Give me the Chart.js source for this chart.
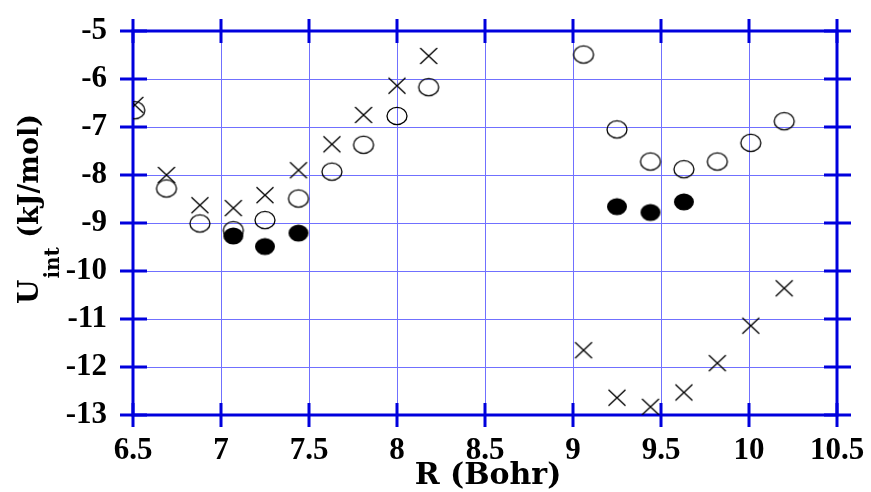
<!DOCTYPE html>
<html>
<head>
<meta charset="utf-8">
<script src="https://cdn.jsdelivr.net/npm/chart.js@4"></script>
<style>
  html, body { margin: 0; padding: 0; background: #fff; }
  #grafico { display: block; }
</style>
</head>
<body>
<canvas id="grafico" width="871" height="492"></canvas>
<script>
// distancias R (Bohr) de cada grupo
const rIzq = [6.51, 6.69, 6.88, 7.07, 7.25, 7.44, 7.63, 7.81, 8.0, 8.18];
const rDer = [9.06, 9.25, 9.44, 9.63, 9.82, 10.01, 10.2];
const rLlenoIzq = [7.07, 7.25, 7.44];
const rLlenoDer = [9.25, 9.44, 9.63];

// energias U_int (kJ/mol)
const abiertoIzq = [-6.65, -8.28, -9.01, -9.15, -8.94, -8.49, -7.93, -7.37, -6.77, -6.17];
const abiertoDer = [-5.49, -7.05, -7.72, -7.88, -7.72, -7.33, -6.88];
const cruzIzq = [-6.54, -8.0, -8.63, -8.69, -8.42, -7.9, -7.36, -6.75, -6.14, -5.52];
const cruzDer = [-11.65, -12.64, -12.83, -12.53, -11.92, -11.14, -10.36];
const llenoIzq = [-9.27, -9.49, -9.21];
const llenoDer = [-8.66, -8.78, -8.56];

// etiquetas de los ejes
const ejeX = { min: 6.5, max: 10.5, paso: 0.5, titulo: 'R (Bohr)' };
const ejeY = { min: -13, max: -5, paso: 1 };

const azul = '#0000dd';
const rejilla = '#7070ff';
const fuenteTitulo = 'bold 30px "DejaVu Serif"';

function puntos(rs, us) {
    return rs.map((r, i) => ({ x: r, y: us[i] }));
}

// simbolos dibujados a mano (elipses y cruces)
function simbolo(tipo) {
    const c = document.createElement('canvas');
    c.width = 24; c.height = 22;
    const g = c.getContext('2d');
    g.strokeStyle = '#000';
    g.fillStyle = '#000';
    g.lineWidth = 1.3;
    if (tipo === 'cruz') {
        g.beginPath();
        g.moveTo(3.5, 3); g.lineTo(20.5, 19);
        g.moveTo(20.5, 3); g.lineTo(3.5, 19);
        g.stroke();
    } else {
        g.beginPath();
        g.ellipse(12, 11, 10, 8.6, 0, 0, Math.PI * 2);
        if (tipo === 'lleno') g.fill(); else g.stroke();
    }
    return c;
}

// caja azul con marcas que cruzan el borde, y titulos
const marco = {
    id: 'marco',
    beforeDatasetsDraw(chart) {
        const { ctx, chartArea: a, scales } = chart;
        ctx.save();
        ctx.strokeStyle = azul;
        ctx.lineWidth = 3;
        ctx.strokeRect(a.left, a.top, a.right - a.left, a.bottom - a.top);
        ctx.beginPath();
        scales.x.ticks.forEach(t => {
            const x = scales.x.getPixelForValue(t.value);
            ctx.moveTo(x, a.top - 12); ctx.lineTo(x, a.top + 12);
            ctx.moveTo(x, a.bottom - 12); ctx.lineTo(x, a.bottom + 12);
        });
        scales.y.ticks.forEach(t => {
            const y = scales.y.getPixelForValue(t.value);
            ctx.moveTo(a.left - 13, y); ctx.lineTo(a.left + 14, y);
            ctx.moveTo(a.right - 13, y); ctx.lineTo(a.right + 14, y);
        });
        ctx.stroke();
        ctx.restore();
    },
    afterDraw(chart) {
        const { ctx, chartArea: a } = chart;
        ctx.save();
        ctx.fillStyle = '#000';
        ctx.font = fuenteTitulo;
        ctx.textAlign = 'center';
        ctx.textBaseline = 'alphabetic';
        ctx.fillText(ejeX.titulo, (a.left + a.right) / 2 + 3, 484);

        // titulo vertical con subindice
        ctx.translate(38, 304);
        ctx.rotate(-Math.PI / 2);
        ctx.textAlign = 'left';
        ctx.font = 'bold 28px "DejaVu Serif"';
        ctx.fillText('U', 0, 0);
        const wU = ctx.measureText('U').width;
        ctx.font = 'bold 20px "DejaVu Serif"';
        ctx.fillText('int', wU + 1, 21);
        const wInt = ctx.measureText('int').width;
        ctx.font = 'bold 27px "DejaVu Serif"';
        ctx.fillText(' (kJ/mol)', wU + wInt + 1, 0);
        ctx.restore();
    }
};

const abierto = simbolo('abierto');
const cruz = simbolo('cruz');
const lleno = simbolo('lleno');

new Chart(document.getElementById('grafico').getContext('2d'), {
    type: 'scatter',
    data: {
        datasets: [
            { data: puntos(rIzq, abiertoIzq).concat(puntos(rDer, abiertoDer)), pointStyle: abierto },
            { data: puntos(rIzq, cruzIzq).concat(puntos(rDer, cruzDer)), pointStyle: cruz },
            { data: puntos(rLlenoIzq, llenoIzq).concat(puntos(rLlenoDer, llenoDer)), pointStyle: lleno }
        ]
    },
    options: {
        responsive: false,
        animation: false,
        layout: { padding: { top: 31, right: 34, left: 0, bottom: 0 } },
        plugins: { legend: { display: false }, tooltip: { enabled: false } },
        scales: {
            x: {
                type: 'linear',
                min: ejeX.min, max: ejeX.max,
                afterFit: s => { s.height = 77; s.paddingLeft = 0; s.paddingRight = 0; },
                border: { display: false },
                grid: { color: rejilla, lineWidth: 1, drawTicks: false },
                ticks: {
                    stepSize: ejeX.paso,
                    color: '#000',
                    font: { family: 'Liberation Serif', size: 31, weight: 'bold' },
                    padding: 17,
                    maxRotation: 0,
                    autoSkip: false,
                    callback: v => String(+v.toFixed(1))
                }
            },
            y: {
                type: 'linear',
                min: ejeY.min, max: ejeY.max,
                afterFit: s => { s.width = 133; s.paddingTop = 0; s.paddingBottom = 0; },
                border: { display: false },
                grid: { color: rejilla, lineWidth: 1, drawTicks: false },
                ticks: {
                    stepSize: ejeY.paso,
                    color: '#000',
                    font: { family: 'Liberation Serif', size: 31, weight: 'bold' },
                    padding: 26,
                    autoSkip: false
                }
            }
        }
    },
    plugins: [marco]
});
</script>
</body>
</html>
